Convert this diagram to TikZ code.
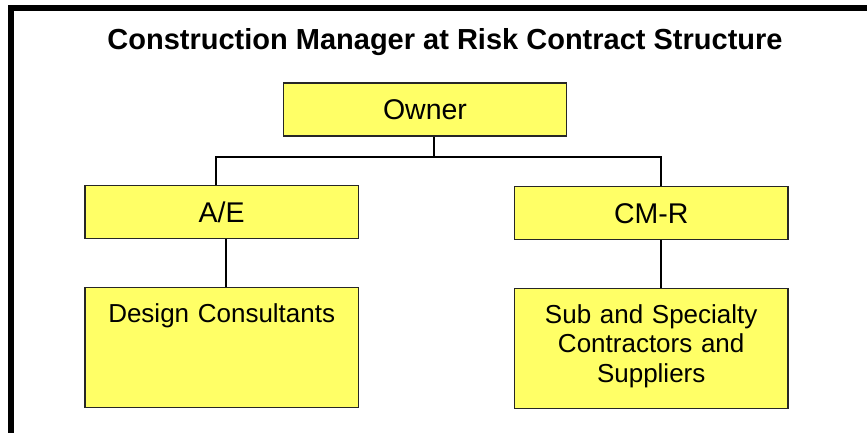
\documentclass[tikz,border=0pt]{standalone}
\usepackage{fontspec}
\setmainfont{Liberation Sans}
\usetikzlibrary{positioning}
\definecolor{boxyellow}{RGB}{255,255,102}

\begin{document}
\begin{tikzpicture}[x=1pt,y=1pt,
					thick,
					box/.style={rectangle,draw=black!85,line width=1.2pt,fill=boxyellow},
					head node/.style={box,minimum width=273.5pt,minimum height=52.5pt,inner sep=0pt,
						font=\fontsize{28.5}{32}\selectfont,text height=20.4pt,text depth=0pt},
					sub node/.style={box,minimum width=273.5pt,inner sep=0pt,text width=250pt,align=center,
						font=\fontsize{26}{29.7}\selectfont,text height=34.6pt,text depth=85.4pt},
					link/.style={draw=black,line width=2pt}]

  \useasboundingbox (0,0) rectangle (867,432);
  % frame
  \draw[line width=6pt] (11,-5) -- (11,424) -- (872,424);

  \node[font=\bfseries\fontsize{29}{34}\selectfont,anchor=base] (title) at (445,382) {Construction Manager at Risk Contract Structure};

  \node[head node,minimum width=283pt,minimum height=53pt] (Owner) at (425,322.5) {Owner};
  \node[head node] (AE) [below=48.5pt of Owner,xshift=-203.3pt] {A/E};
  \node[head node] (CMR) [below=49.5pt of Owner,xshift=226.2pt] {CM-R};
  \node[sub node] (DC) [below=48pt of AE] {Design Consultants};
  \node[sub node] (Subs) [below=48pt of CMR] {Sub and Specialty\\Contractors and\\Suppliers};

  \draw[link] ([xshift=9pt]Owner.south) -- ++(0,-20) coordinate (bus);
  \draw[link] ([xshift=-6pt]AE.north) |- (bus) -| ([xshift=10pt]CMR.north);
  \path[link]
    ([xshift=4pt]AE.south) edge ([xshift=4pt]AE.south |- DC.north)
    ([xshift=10pt]CMR.south) edge ([xshift=10pt]CMR.south |- Subs.north);
\end{tikzpicture}
\end{document}
